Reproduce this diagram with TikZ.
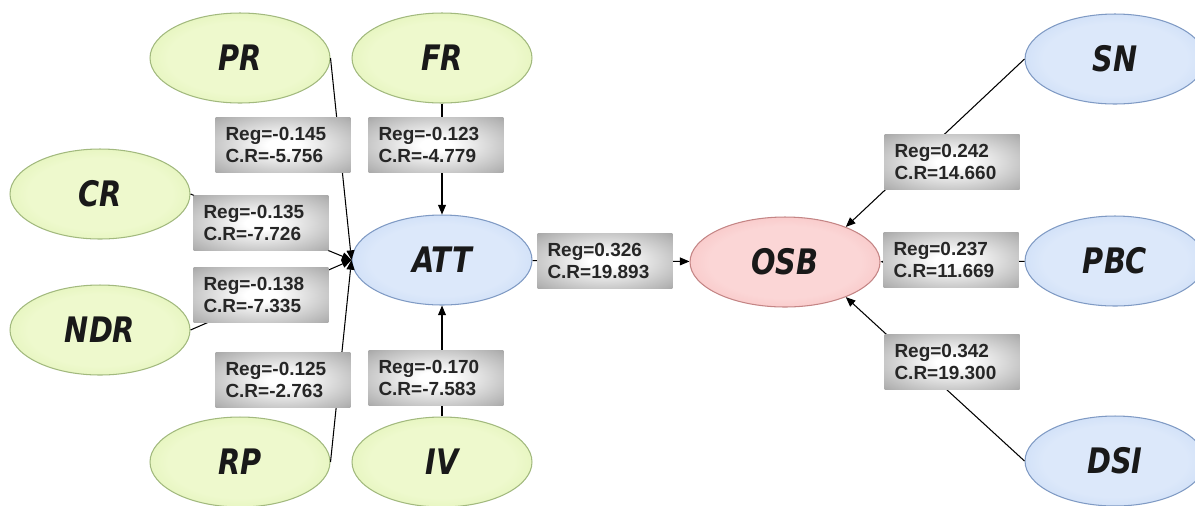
\documentclass[tikz,border=0pt]{standalone}
\usepackage{fontspec}
\setmainfont{Liberation Sans}
\newfontfamily\ellfont[FakeStretch=0.82]{DejaVu Sans}
\newfontfamily\regfont{Liberation Sans}
\usetikzlibrary{shapes.geometric,arrows.meta}

\definecolor{greenin}{HTML}{EEF9CD}
\definecolor{greenout}{HTML}{C9E68C}
\definecolor{greenline}{HTML}{A2B97E}
\definecolor{bluein}{HTML}{DCE8FA}
\definecolor{blueout}{HTML}{A6C3EE}
\definecolor{blueline}{HTML}{7F9AC4}
\definecolor{redin}{HTML}{FBD6D6}
\definecolor{redout}{HTML}{F09C9C}
\definecolor{redline}{HTML}{C48585}
\definecolor{boxin}{HTML}{FFFFFF}
\definecolor{boxout}{HTML}{777777}

\pgfdeclareradialshading{greenball}{\pgfpoint{0bp}{0bp}}{color(0bp)=(greenin); color(20bp)=(greenin); color(50bp)=(greenout)}
\pgfdeclareradialshading{blueball}{\pgfpoint{0bp}{0bp}}{color(0bp)=(bluein); color(20bp)=(bluein); color(50bp)=(blueout)}
\pgfdeclareradialshading{redball}{\pgfpoint{0bp}{0bp}}{color(0bp)=(redin); color(20bp)=(redin); color(50bp)=(redout)}
\pgfdeclareradialshading{regshade}{\pgfpoint{0bp}{0bp}}{color(0bp)=(boxin); color(6bp)=(boxin); color(32bp)=(boxout!55!white); color(50bp)=(boxout)}

\begin{document}
\begin{tikzpicture}[x=0.02cm, y=-0.02cm,
    latent/.style={ellipse, draw, line width=0.6pt, minimum width=3.6cm, minimum height=1.8cm,
        inner sep=0pt, font=\ellfont\fontsize{20}{21}\selectfont\bfseries\itshape, text=black!90},
    latgreen/.style={latent, draw=greenline, shading=greenball},
    latblue/.style={latent, draw=blueline, shading=blueball},
    latred/.style={latent, draw=redline, shading=redball, minimum width=3.8cm},
    regbox/.style={rectangle, shading=regshade, minimum width=2.7cm, minimum height=1.1cm,
        text width=2.3cm, inner xsep=0.2cm, align=left, text=black!85,
        font=\regfont\fontsize{10.8}{12.5}\selectfont\bfseries},
    path/.style={draw, line width=0.6pt, -{Triangle[length=5.5pt, width=4.5pt]}}]
\useasboundingbox (0,0) rectangle (1195,505);

% constructs
\node[latgreen] (PR)  at (240,58)  {PR};
\node[latgreen] (FR)  at (442,58)  {FR};
\node[latgreen] (CR)  at (100,194) {CR};
\node[latgreen] (NDR) at (100,330) {NDR};
\node[latgreen] (RP)  at (240,462) {RP};
\node[latgreen] (IV)  at (442,462) {IV};
\node[latblue]  (ATT) at (442,260) {ATT};
\node[latred]   (OSB) at (785,262) {OSB};
\node[latblue]  (SN)  at (1115,59)  {SN};
\node[latblue]  (PBC) at (1115,261) {PBC};
\node[latblue]  (DSI) at (1115,461) {DSI};

% paths
\draw[path] (PR.east) -- (ATT.west);
\draw[path] (CR.east) -- (ATT.west);
\draw[path] (NDR.east) -- (ATT.west);
\draw[path] (RP.east) -- (ATT.west);
\draw[path] (FR) -- (ATT);
\draw[path] (IV) -- (ATT);
\draw[path] (ATT) -- (OSB);
\draw[path] (SN.west) -- (OSB.30);
\draw[path] (PBC) -- (OSB);
\draw[path] (DSI.west) -- (OSB.-30);

% estimates
\node[regbox] (rPR)  at (283,145) {Reg=-0.145\\C.R=-5.756};
\node[regbox] (rFR)  at (436,145) {Reg=-0.123\\C.R=-4.779};
\node[regbox] (rCR)  at (261,223) {Reg=-0.135\\C.R=-7.726};
\node[regbox] (rNDR) at (261,295) {Reg=-0.138\\C.R=-7.335};
\node[regbox] (rRP)  at (283,380) {Reg=-0.125\\C.R=-2.763};
\node[regbox] (rIV)  at (436,378) {Reg=-0.170\\C.R=-7.583};
\node[regbox] (rATT) at (605,261) {Reg=0.326\\C.R=19.893};
\node[regbox] (rSN)  at (952,162) {Reg=0.242\\C.R=14.660};
\node[regbox] (rPBC) at (951,260) {Reg=0.237\\C.R=11.669};
\node[regbox] (rDSI) at (952,362) {Reg=0.342\\C.R=19.300};
\end{tikzpicture}
\end{document}
